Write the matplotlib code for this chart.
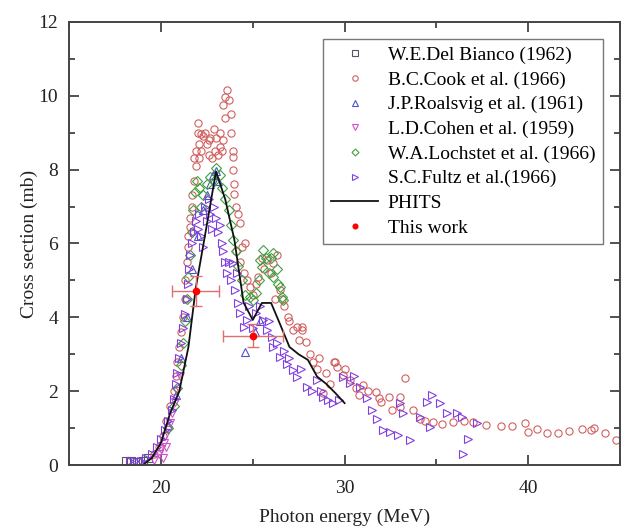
import matplotlib
matplotlib.use("Agg")
import matplotlib.pyplot as plt
from matplotlib.ticker import MultipleLocator

plt.rcParams['font.family'] = ['Liberation Serif', 'DejaVu Serif']

# W.E.Del Bianco (1962)
bianco_e = [18.1, 18.4, 18.7, 19.0, 19.3]
bianco_s = [0.10, 0.10, 0.08, 0.12, 0.20]

# B.C.Cook et al. (1966)
cook_e = [19.6, 19.9, 20.1, 20.3, 20.5, 20.7, 20.8, 20.9, 21.0, 21.1, 21.2, 21.3, 21.3, 21.4,
          21.5, 21.5, 21.6, 21.6, 21.7, 21.7, 21.8, 21.9, 21.9, 22.0, 22.0, 22.1, 22.2, 22.3,
          22.5, 22.6, 22.7, 22.9, 22.95, 23.0, 23.2, 23.2, 23.3, 23.4, 23.4, 23.5, 23.5, 23.6,
          23.7, 23.8, 23.8, 23.9, 23.95, 23.9, 24.0, 24.0, 24.1, 24.2, 24.3, 24.1, 24.3, 24.5,
          24.6, 24.85, 25.2, 25.3, 25.6, 25.8, 26.1, 26.3, 26.5, 26.7, 26.9, 27.2, 27.4, 27.7,
          27.7, 27.9, 28.1, 28.5, 28.8, 29.0, 29.2, 29.4, 29.5, 29.6, 29.9, 30.3, 30.6, 31.0,
          31.3, 31.7, 31.9, 32.4, 32.6, 33.0, 33.0, 33.3, 33.7, 34.1, 34.4, 34.8, 35.3, 35.9,
          36.5, 37.0, 37.7, 38.5, 39.1, 39.8, 40.0, 40.5, 41.0, 41.6, 42.2, 42.9, 43.4, 43.6,
          44.2, 44.8,
          22.1, 22.4, 22.8, 23.1, 22.2, 22.6, 21.8, 24.4, 24.7, 25.0, 25.5, 26.0, 26.2, 26.6,
          27.0, 27.5, 28.3, 28.6, 30.0, 30.8, 32.0]
cook_s = [0.3, 0.5, 0.8, 1.2, 1.6, 2.0, 2.4, 2.8, 3.2, 3.6, 4.0, 4.5, 5.0, 5.5,
          5.9, 6.2, 6.45, 6.7, 7.0, 7.3, 7.7, 8.1, 8.5, 9.0, 9.25, 8.7, 8.5, 8.9,
          8.7, 8.4, 8.85, 9.1, 8.5, 8.85, 9.0, 8.6, 8.5, 8.8, 9.75, 9.4, 9.97, 10.16,
          9.88, 9.5, 9.0, 8.5, 8.35, 8.0, 7.6, 7.35, 7.0, 6.8, 6.55, 5.8, 5.5, 5.2,
          6.0, 4.83, 4.9, 5.1, 5.3, 5.55, 5.47, 5.7, 4.74, 4.3, 4.0, 3.66, 3.75, 3.75,
          3.66, 3.34, 3.0, 2.6, 1.94, 2.5, 2.2, 2.8, 2.8, 2.66, 2.44, 2.3, 2.1, 2.17,
          2.0, 1.99, 1.81, 1.85, 1.49, 1.85, 1.58, 2.35, 1.49, 1.26, 1.2, 1.17, 1.12, 1.17,
          1.2, 1.17, 1.1, 1.06, 1.07, 1.14, 0.9, 0.97, 0.87, 0.88, 0.93, 0.99, 0.95, 1.0,
          0.87, 0.68,
          8.3, 9.0, 8.3, 8.4, 8.95, 8.8, 8.3, 5.9, 5.0, 4.6, 5.6, 5.2, 4.5, 4.5,
          3.9, 3.4, 2.8, 2.9, 2.6, 1.9, 1.7]

# J.P.Roalsvig et al. (1961)
roal_e = [20.4, 20.8, 21.1, 21.4, 21.7, 22.0, 22.3, 22.5, 22.7, 22.85, 23.0, 23.1, 24.58, 25.1, 25.4]
roal_s = [1.1, 1.9, 2.9, 4.0, 5.3, 6.2, 6.9, 7.3, 7.6, 7.85, 7.95, 7.7, 3.07, 3.6, 3.9]

# L.D.Cohen et al. (1959)
cohen_e = [19.6, 19.9, 20.0, 20.1, 20.15, 20.25, 20.3, 20.4, 20.5, 20.6, 20.75, 20.9, 21.05]
cohen_s = [0.15, 0.3, 0.45, 0.2, 0.6, 0.8, 0.5, 0.95, 1.15, 1.4, 1.7, 2.0, 2.4]

# W.A.Lochstet et al. (1966)
loch_e = [20.4, 20.7, 20.9, 21.1, 21.2, 21.3, 21.4, 21.5, 21.6, 21.7, 21.75, 21.85, 21.95, 22.1,
          22.2, 22.3, 22.5, 22.7, 22.9, 23.0, 23.2, 23.3, 23.5, 23.7, 23.8, 23.9, 24.1, 24.2,
          24.4, 24.6, 24.85, 25.03, 25.2, 25.35, 25.4, 25.5, 25.57, 25.7, 25.9, 26.0, 26.1,
          26.1, 26.3, 26.5, 26.6, 26.67, 26.4]
loch_s = [1.0, 1.6, 2.1, 2.7, 3.3, 3.9, 4.5, 5.1, 5.7, 6.3, 6.9, 7.4, 7.7, 7.5,
          7.0, 7.3, 7.6, 7.8, 7.7, 8.05, 7.85, 7.5, 7.2, 6.9, 6.5, 6.1, 5.8, 5.4,
          5.0, 4.6, 4.56, 4.47, 4.65, 5.0, 5.55, 5.37, 5.82, 5.6, 5.19, 5.6, 5.73,
          5.1, 5.3, 4.83, 4.56, 4.47, 4.9]

# S.C.Fultz et al.(1966)
fultz_e = [18.3, 18.6, 18.9, 19.2, 19.5, 19.8, 20.0, 20.2, 20.4, 20.6, 20.7, 20.8, 20.9, 21.0,
           21.1, 21.2, 21.3, 21.4, 21.5, 21.55, 21.6, 21.7, 21.8, 21.9, 22.0, 22.1, 22.2, 22.3,
           22.4, 22.5, 22.6, 22.7, 22.8, 22.9, 23.0, 23.1, 23.2, 23.3, 23.4, 23.5, 23.6, 23.7,
           23.8, 23.95, 24.04, 24.13, 24.2, 24.3, 24.5, 24.67, 24.8, 25.0, 25.2, 25.4, 25.58,
           25.76, 25.9, 26.03, 26.12, 26.3, 26.5, 26.7, 26.85, 27.0, 27.2, 27.4, 27.6, 27.94,
           28.2, 28.48, 28.7, 28.84, 29.1, 29.39, 29.7, 29.93, 30.3, 30.5, 30.84, 31.2, 31.48,
           31.75, 32.1, 32.47, 32.93, 33.0, 33.2, 33.56, 34.1, 34.47, 34.65, 34.74, 35.2, 35.56,
           36.1, 36.38, 36.46, 36.73, 37.19]
fultz_s = [0.1, 0.1, 0.12, 0.2, 0.3, 0.5, 0.7, 0.95, 1.2, 1.5, 1.8, 2.2, 2.5, 2.9,
           3.3, 3.7, 4.1, 4.5, 4.9, 5.3, 5.7, 6.0, 6.3, 6.6, 6.4, 6.8, 6.2, 5.9,
           7.0, 6.6, 7.2, 6.8, 6.4, 7.0, 6.7, 6.3, 6.5, 6.0, 5.8, 5.5, 5.2, 5.5,
           5.0, 5.47, 4.74, 5.19, 4.4, 4.11, 3.75, 3.93, 4.3, 3.7, 4.11, 4.3, 3.93,
           3.66, 3.9, 3.48, 3.2, 3.3, 2.93, 3.1, 2.75, 2.9, 2.57, 2.39, 2.6, 2.12,
           2.0, 2.3, 2.0, 1.85, 1.75, 1.67, 1.75, 2.39, 2.21, 2.4, 2.12, 1.81, 1.49,
           1.26, 0.95, 0.9, 0.81, 1.67, 1.4, 0.68, 1.31, 1.71, 1.04, 1.9, 1.67, 1.4,
           1.4, 1.31, 0.31, 0.72, 1.13]

# PHITS calculation
phits_e = [19.0, 19.5, 20.0, 20.5, 21.0, 21.5, 21.9, 22.5, 23.0, 23.5, 24.0, 24.5, 25.0,
           25.5, 26.0, 26.5, 27.0, 27.5, 28.0, 28.5, 29.0, 29.5, 30.0]
phits_s = [0.0, 0.19, 0.6, 1.4, 2.0, 3.2, 4.8, 6.5, 7.95, 7.2, 6.1, 4.4, 3.93,
           4.39, 4.39, 3.8, 3.2, 3.0, 2.85, 2.4, 2.2, 1.95, 1.68]

# This work
work_e = [21.9, 25.0]
work_s = [4.71, 3.50]
work_xerr = [1.27, 1.64]
work_yerr = [0.41, 0.31]

fig = plt.figure(figsize=(6.22, 5.31), dpi=100)
ax = fig.add_axes([0.111, 0.124, 0.886, 0.835])

ms = 5.2
mew = 0.8
ax.plot(bianco_e, bianco_s, 's', ms=ms, mew=mew, mfc='none', color='#555566', label='W.E.Del Bianco (1962)')
ax.plot(cook_e, cook_s, 'o', ms=ms, mew=mew, mfc='none', color='#d06060', label='B.C.Cook et al. (1966)')
ax.plot(roal_e, roal_s, '^', ms=ms, mew=mew, mfc='none', color='#5050d0', label='J.P.Roalsvig et al. (1961)')
ax.plot(cohen_e, cohen_s, 'v', ms=ms, mew=mew, mfc='none', color='#d050d0', label='L.D.Cohen et al. (1959)')
ax.plot(loch_e, loch_s, 'D', ms=ms - 0.5, mew=mew, mfc='none', color='#40a040', label='W.A.Lochstet et al. (1966)')
ax.plot(fultz_e, fultz_s, '>', ms=ms, mew=mew, mfc='none', color='#8040e0', label='S.C.Fultz et al.(1966)')
ax.plot(phits_e, phits_s, '-', color='#111111', lw=1.3, label='PHITS')
ax.errorbar(work_e, work_s, xerr=work_xerr, yerr=work_yerr, fmt='none', ecolor='#e07070',
            elinewidth=1.0, capsize=4, capthick=1.0)
ax.plot(work_e, work_s, 'o', ms=4.5, color='red', label='This work')

ax.set_xlim(15, 45)
ax.set_ylim(0, 12)
ax.xaxis.set_major_locator(MultipleLocator(10))
ax.xaxis.set_minor_locator(MultipleLocator(5))
ax.yaxis.set_major_locator(MultipleLocator(2))
ax.yaxis.set_minor_locator(MultipleLocator(1))
ax.tick_params(which='both', direction='in', top=True, right=True, labelsize=14, colors='#333333',
               labelcolor='#222222', width=1.2)
ax.tick_params(which='major', length=7, pad=8)
ax.tick_params(axis='x', which='major', pad=11)
ax.tick_params(which='minor', length=4)
for sp in ax.spines.values():
    sp.set_color('#444444')
    sp.set_linewidth(1.4)

ax.set_xlabel('Photon energy (MeV)', fontsize=14, color='#222222', labelpad=8)
ax.set_ylabel('Cross section (mb)', fontsize=14, color='#222222', labelpad=0)

leg = ax.legend(loc='upper right', bbox_to_anchor=(0.969, 0.962), fontsize=14, frameon=True,
                fancybox=False, edgecolor='#555555', handlelength=2.4, labelspacing=0.36,
                borderpad=0.4, handletextpad=0.5, markerscale=0.75, borderaxespad=0)
leg.get_frame().set_linewidth(1.0)

plt.savefig('out.png', dpi=100)
